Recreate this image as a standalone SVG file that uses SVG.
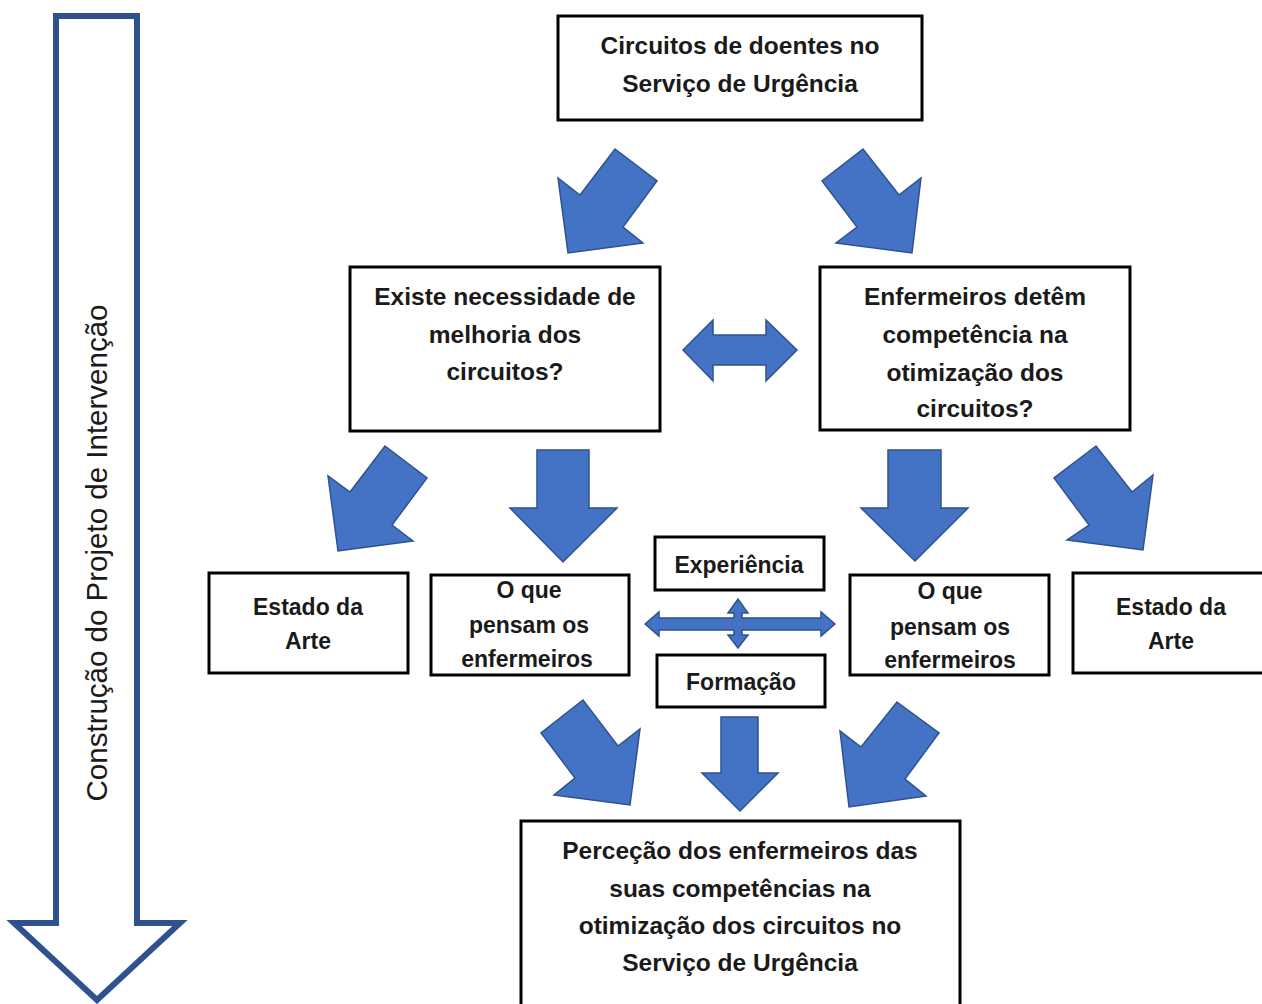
<svg xmlns="http://www.w3.org/2000/svg" width="1262" height="1004" viewBox="0 0 1262 1004">
<style>
.box{fill:#fff;stroke:#000;stroke-width:3}
.arr{fill:#4472C4;stroke:#2F528F;stroke-width:1.5;stroke-linejoin:miter}
.t{font-family:"Liberation Sans",Arial,sans-serif;font-weight:bold;font-size:24.5px;fill:#1a1a1a;text-anchor:middle}
.s{font-size:23px}
.v{font-family:"Liberation Sans",Arial,sans-serif;font-size:29.5px;fill:#1a1a1a;text-anchor:middle}
</style>
<rect width="1262" height="1004" fill="#fff"/>
<g id="timeline">
<path d="M56,16 H137 V923 H180 L97,1000 L14,923 H56 Z" fill="none" stroke="#2F528F" stroke-width="6"/>
<text class="v" transform="translate(107,553) rotate(-90)">Construção do Projeto de Intervenção</text>
</g>
<g id="connectors">
<polygon class="arr" points="615,149 657,181 623,227 643,243 568,253 558,178 580,195"/>
<polygon class="arr" points="863,149 822,181 857,227 836,243 912,253 921,178 899,195"/>
<polygon class="arr" points="683,350 713,320 713,335 766,335 766,320 797,350 766,381 766,365 713,365 713,381"/>
<polygon class="arr" points="385,446 427,478 392,525 413,541 338,551 328,476 350,492"/>
<polygon class="arr" points="537,450 589,450 589,508 617,508 563,562 510,508 537,508"/>
<polygon class="arr" points="888,450 941,450 941,508 968,508 915,561 861,508 888,508"/>
<polygon class="arr" points="1096,446 1054,478 1089,525 1067,540 1143,550 1153,475 1132,492"/>
<polygon class="arr" points="645,624 659,612 659,618 734,618 734,613 728,613 738,599 748,613 742,613 742,618 821,618 821,612 835,624 821,636 821,630 742,630 742,635 748,635 738,648 728,635 734,635 734,630 659,630 659,636"/>
<polygon class="arr" points="583,700 541,733 575,778 554,795 630,805 640,729 618,746"/>
<polygon class="arr" points="721,717 758,717 758,773 778,773 740,811 702,773 721,773"/>
<polygon class="arr" points="897,702 939,733 905,779 926,796 849,807 840,731 861,747"/>
</g>
<g id="n_top">
<rect class="box" x="558" y="16" width="364" height="104"/>
<text class="t" x="740" y="54">Circuitos de doentes no</text>
<text class="t" x="740" y="92">Serviço de Urgência</text>
</g>
<g id="n_necessidade">
<rect class="box" x="350" y="267" width="310" height="164"/>
<text class="t" x="505" y="305">Existe necessidade de</text>
<text class="t" x="505" y="343">melhoria dos</text>
<text class="t" x="505" y="380">circuitos?</text>
</g>
<g id="n_competencia">
<rect class="box" x="820" y="267" width="310" height="163"/>
<text class="t" x="975" y="305">Enfermeiros detêm</text>
<text class="t" x="975" y="343">competência na</text>
<text class="t" x="975" y="381">otimização dos</text>
<text class="t" x="975" y="417">circuitos?</text>
</g>
<g id="n_estado_l">
<rect class="box" x="209" y="573" width="199" height="100"/>
<text class="t s" x="308" y="615">Estado da</text>
<text class="t s" x="308" y="649">Arte</text>
</g>
<g id="n_oque_l">
<rect class="box" x="431" y="575" width="198" height="100"/>
<text class="t s" x="529" y="598">O que</text>
<text class="t s" x="529" y="633">pensam os</text>
<text class="t s" x="527" y="667">enfermeiros</text>
</g>
<g id="n_oque_r">
<rect class="box" x="850" y="575" width="199" height="100"/>
<text class="t s" x="950" y="599">O que</text>
<text class="t s" x="950" y="635">pensam os</text>
<text class="t s" x="950" y="668">enfermeiros</text>
</g>
<g id="n_estado_r">
<rect class="box" x="1073" y="573" width="200" height="100"/>
<text class="t s" x="1171" y="615">Estado da</text>
<text class="t s" x="1171" y="649">Arte</text>
</g>
<g id="n_experiencia">
<rect class="box" x="655" y="537" width="169" height="53"/>
<text class="t s" x="739" y="573">Experiência</text>
</g>
<g id="n_formacao">
<rect class="box" x="657" y="655" width="168" height="52"/>
<text class="t s" x="741" y="690">Formação</text>
</g>
<g id="n_percecao">
<rect class="box" x="521" y="821" width="439" height="190"/>
<text class="t" x="740" y="859">Perceção dos enfermeiros das</text>
<text class="t" x="740" y="897">suas competências na</text>
<text class="t" x="740" y="934">otimização dos circuitos no</text>
<text class="t" x="740" y="971">Serviço de Urgência</text>
</g>
</svg>
